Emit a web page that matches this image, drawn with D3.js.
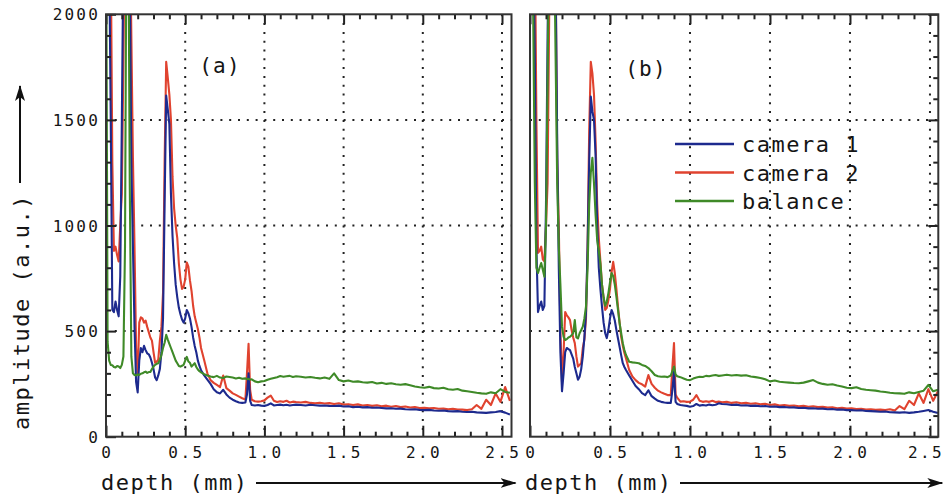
<!DOCTYPE html>
<html>
<head>
<meta charset="utf-8">
<script src="https://cdn.jsdelivr.net/npm/d3@7"></script>
<style>
  body { margin: 0; background: #fff; }
  text { font-family: "DejaVu Sans Mono", monospace; fill: #151515; }
</style>
</head>
<body>
<svg id="chart" width="946" height="495"></svg>
<script>
// sampling grid (mm), shared by every series
const depth = [
  0, 0.01, 0.02, 0.03, 0.04, 0.05, 0.06, 0.07, 0.08, 0.09,
  0.10, 0.11, 0.12, 0.13, 0.14, 0.15, 0.16, 0.17, 0.18, 0.19,
  0.20, 0.21, 0.22, 0.23, 0.24, 0.25, 0.26, 0.27, 0.28, 0.29,
  0.30, 0.31, 0.32, 0.33, 0.34, 0.35, 0.36, 0.37, 0.38, 0.39,
  0.40, 0.41, 0.42, 0.43, 0.44, 0.45, 0.46, 0.47, 0.48, 0.49,
  0.50, 0.51, 0.52, 0.53, 0.54, 0.55, 0.56, 0.57, 0.58, 0.59,
  0.60,
  0.62, 0.64, 0.66, 0.68, 0.70, 0.72, 0.74, 0.76, 0.78, 0.80, 0.82, 0.84, 0.86, 0.88,
  0.89, 0.90, 0.91, 0.92,
  0.94, 0.96, 0.98, 1.00, 1.02, 1.04, 1.06, 1.08, 1.10, 1.12, 1.14, 1.16, 1.18, 1.20,
  1.23, 1.26, 1.29, 1.32, 1.35, 1.38, 1.41, 1.44, 1.47, 1.50,
  1.53, 1.56, 1.59, 1.62, 1.65, 1.68, 1.71, 1.74, 1.77, 1.80,
  1.83, 1.86, 1.89, 1.92, 1.95, 1.98, 2.01, 2.04, 2.07, 2.10,
  2.13, 2.16, 2.19, 2.22, 2.25, 2.28, 2.31, 2.34, 2.37, 2.40,
  2.43, 2.46, 2.49, 2.52, 2.55
]

// panel (a)
const cam1A = [
  2600, 2500, 2300, 1500, 600, 590, 640, 600, 570, 760,
  1500, 2300, 2600, 2600, 2500, 2200, 1300, 900, 520, 260,
  210, 360, 420, 400, 430, 410, 395, 390, 375, 350,
  320, 280, 268, 290, 320, 400, 560, 1100, 1615, 1550,
  1480, 1150, 950, 820, 720, 660, 610, 580, 555, 540,
  560, 600, 585, 560, 520, 470, 430, 400, 360, 335,
  315,
  290, 270, 250, 225, 210, 205, 222, 200, 185, 175, 168, 162, 160, 162,
  200, 300, 170, 150,
  148, 150, 147, 146, 150, 158, 148, 150, 152, 149, 151, 148, 150, 152,
  150, 148, 151, 149, 147, 148, 146, 145, 147, 143,
  144, 140, 142, 139, 140, 137, 138, 136, 134, 135,
  132, 133, 130, 129, 130, 127, 126, 127, 124, 123,
  124, 121, 120, 121, 118, 117, 118, 115, 114, 113,
  115, 117, 121, 114, 105
]
const cam2A = [
  2600, 2600, 2500, 2300, 1300, 880, 900, 860, 830, 1000,
  1150, 1800, 2500, 2600, 2600, 2500, 1900, 1320, 900, 420,
  300, 540, 565, 560, 540, 550, 520, 495, 470, 455,
  400, 350, 355, 365, 455, 520, 680, 1300, 1775, 1700,
  1620, 1500, 1230, 1080, 1000, 940, 820, 745, 700, 710,
  745, 825, 805, 740, 690, 620, 570, 540, 510, 470,
  420,
  362, 300, 268, 255, 245, 235, 290, 230, 218, 205, 198, 190, 182, 176,
  300, 440, 220, 175,
  168, 166, 168, 172, 185, 195, 170, 164, 168, 165, 170, 162, 166, 164,
  162, 165, 160, 158, 161, 157, 159, 155, 158, 152,
  154, 150, 153, 148, 150, 146, 149, 144, 147, 142,
  145, 140, 143, 138, 140, 136, 137, 134, 136, 132,
  133, 130, 132, 129, 128, 126, 130, 150, 132, 175,
  150, 205, 165, 235, 170
]
const balA = [
  2600, 450, 360, 340, 338, 330, 328, 335, 332, 325,
  340, 380, 900, 2600, 2600, 1200, 380, 300, 292, 290,
  295, 292, 298, 300, 305, 308, 302, 306, 306, 320,
  332, 340, 345, 348, 365, 387, 420, 445, 482, 460,
  440, 420, 400, 380, 360, 348, 335, 332, 336, 340,
  360, 378, 356, 350, 332, 340, 348, 330, 318, 310,
  305,
  296, 290, 285, 282, 288, 280, 278, 285, 283, 280, 276, 279, 274, 276,
  272, 274, 270, 272,
  262, 258, 262, 264, 270, 274, 278, 282, 287, 284, 286, 288, 283, 286,
  284, 280, 283, 279, 276, 280, 274, 300, 268, 262,
  266, 260, 262, 258, 256, 259, 252, 255, 250, 253,
  248, 246, 249, 244, 238, 234, 232, 236, 230, 228,
  232, 225, 222, 226, 218, 215, 212, 208, 205, 203,
  210, 206, 225, 212, 208
]

// panel (b)
const cam1B = [
  2600, 2600, 2400, 1800, 900, 590, 620, 640, 600, 620,
  1100, 1900, 2500, 2600, 2600, 2500, 2200, 1400, 800, 400,
  215, 300, 400, 420, 415, 410, 390, 370, 330, 300,
  270, 284, 320, 380, 470, 590, 900, 1300, 1610, 1540,
  1500, 1330, 1000, 800, 700, 616, 540, 490, 467, 505,
  560, 600, 580, 550, 505, 465, 426, 385, 348, 330,
  316,
  290, 265, 240, 225, 206, 197, 220, 192, 180, 170, 165, 162, 160, 160,
  220, 308, 165, 155,
  150, 148, 146, 142, 145, 155, 147, 150, 148, 152, 149, 151, 158, 155,
  154, 150, 152, 148, 149, 146, 147, 144, 145, 142,
  143, 140, 141, 138, 139, 136, 137, 134, 135, 132,
  133, 130, 131, 128, 129, 126, 126, 124, 125, 122,
  121, 120, 118, 119, 116, 115, 114, 116, 113, 115,
  118, 122, 126, 118, 112
]
const cam2B = [
  2600, 2600, 2600, 2400, 1500, 870, 880, 900, 840, 830,
  1000, 1200, 2000, 2600, 2600, 2600, 2200, 1320, 1000, 500,
  260, 400, 590, 575, 565, 552, 505, 470, 443, 380,
  332, 340, 348, 420, 460, 560, 900, 1450, 1775, 1720,
  1620, 1400, 1100, 940, 830, 720, 660, 600, 610, 647,
  700, 780, 828, 775, 700, 616, 540, 473, 430, 396,
  370,
  316, 285, 268, 255, 248, 237, 292, 250, 232, 218, 210, 203, 197, 197,
  330, 443, 200, 185,
  166, 168, 165, 166, 175, 197, 170, 165, 168, 165, 170, 164, 166, 163,
  165, 160, 163, 158, 160, 156, 158, 154, 156, 150,
  153, 148, 150, 146, 148, 144, 146, 142, 144, 140,
  142, 138, 139, 135, 137, 133, 134, 131, 132, 129,
  130, 127, 128, 126, 130, 124, 145, 130, 170, 150,
  205, 160, 225, 170, 215
]
const balB = [
  2600, 2600, 2000, 1200, 800, 775, 800, 822, 790, 757,
  1000, 1700, 2400, 2600, 2600, 2400, 1800, 1200, 900, 720,
  520, 473, 458, 462, 470, 473, 480, 490, 552, 470,
  465, 490, 505, 521, 560, 616, 800, 1100, 1250, 1320,
  1200, 1050, 930, 880, 820, 720, 660, 620, 640, 680,
  730, 775, 760, 720, 663, 600, 538, 490, 443, 410,
  387,
  355, 352, 350, 348, 340, 335, 325, 310, 292, 286, 284, 285, 282, 290,
  310, 332, 295, 286,
  282, 276, 270, 268, 275, 280, 284, 283, 288, 286, 290, 292, 288, 290,
  293, 290, 292, 289, 291, 285, 282, 278, 272, 262,
  266, 260, 258, 256, 254, 253, 256, 262, 268, 256,
  250, 246, 248, 242, 238, 232, 230, 234, 226, 222,
  220, 218, 214, 212, 208, 206, 205, 203, 210, 206,
  212, 218, 245, 215, 222
]

const xTicks = [0, 0.5, 1.0, 1.5, 2.0, 2.5]
const yTicks = [0, 500, 1000, 1500, 2000]
const seriesNames = ['camera 1', 'camera 2', 'balance']
const seriesColors = ['#1d2a8e', '#e0432f', '#3f8a28']

const svg = d3.select('#chart')
const plotTop = 14.3, plotBottom = 436.7

const y = d3.scaleLinear().domain([0, 2000]).range([plotBottom, plotTop])

const panels = [
  { key: 'a', label: '(a)', left: 106, right: 511.5, xmax: 2.56, series: [cam1A, cam2A, balA],
    labelPos: [220, 73], yLabels: true, tickSide: 'left' },
  { key: 'b', label: '(b)', left: 530, right: 938.3, xmax: 2.552, series: [cam1B, cam2B, balB],
    labelPos: [646, 76], yLabels: false, tickSide: 'right' }
]

const defs = svg.append('defs')
defs.append('marker')
  .attr('id', 'arrow')
  .attr('markerUnits', 'userSpaceOnUse')
  .attr('markerWidth', 16).attr('markerHeight', 12)
  .attr('refX', 15).attr('refY', 5)
  .attr('orient', 'auto')
  .append('path')
  .attr('d', 'M0,0 L16,5 L0,10 L4,5 z')
  .attr('fill', '#111')

panels.forEach(p => {
  const x = d3.scaleLinear().domain([0, p.xmax]).range([p.left, p.right])
  const g = svg.append('g')

  defs.append('clipPath').attr('id', 'clip-' + p.key)
    .append('rect')
    .attr('x', p.left).attr('y', plotTop)
    .attr('width', p.right - p.left).attr('height', plotBottom - plotTop)

  // dotted grid
  g.selectAll('.vgrid')
    .data(xTicks.filter(d => d > 0))
    .join('line')
    .attr('x1', d => x(d)).attr('x2', d => x(d))
    .attr('y1', plotTop).attr('y2', plotBottom)
    .attr('stroke', '#222').attr('stroke-width', 2)
    .attr('stroke-dasharray', '2,6.8')
  g.selectAll('.hgrid')
    .data(yTicks.filter(d => d > 0 && d < 2000))
    .join('line')
    .attr('x1', p.left).attr('x2', p.right)
    .attr('y1', d => y(d)).attr('y2', d => y(d))
    .attr('stroke', '#222').attr('stroke-width', 2)
    .attr('stroke-dasharray', '2,6.8')

  // curves: camera 2 under camera 1, balance on top
  const line = d3.line()
    .x((d, i) => x(depth[i]))
    .y(d => y(d))
  const order = [1, 0, 2]
  g.append('g').attr('clip-path', `url(#clip-${p.key})`)
    .selectAll('path')
    .data(order)
    .join('path')
    .attr('d', i => line(p.series[i]))
    .attr('fill', 'none')
    .attr('stroke', i => seriesColors[i])
    .attr('stroke-width', 2.1)
    .attr('stroke-linejoin', 'round')

  // ticks (inward)
  const minorX = d3.range(0, p.xmax, 0.1).filter(d => Math.abs(d * 2 - Math.round(d * 2)) > 1e-6)
  const minorY = d3.range(100, 2000, 100).filter(d => d % 500 !== 0)
  const clean = sel => { sel.select('.domain').remove(); sel.selectAll('text').remove() }

  g.append('g').attr('transform', `translate(0,${plotBottom})`)
    .call(d3.axisBottom(x).tickValues(minorX).tickSize(-5)).call(clean)
  g.append('g').attr('transform', `translate(0,${plotBottom})`)
    .call(d3.axisBottom(x).tickValues(xTicks).tickSize(-11)).call(clean)
  g.append('g').attr('transform', `translate(0,${plotTop})`)
    .call(d3.axisTop(x).tickValues(minorX).tickSize(-5)).call(clean)
  g.append('g').attr('transform', `translate(0,${plotTop})`)
    .call(d3.axisTop(x).tickValues(xTicks).tickSize(-10)).call(clean)

  const yAxisGen = p.tickSide === 'left' ? d3.axisLeft : d3.axisRight
  const yAxisX = p.tickSide === 'left' ? p.left : p.right
  g.append('g').attr('transform', `translate(${yAxisX},0)`)
    .call(yAxisGen(y).tickValues(minorY).tickSize(-5)).call(clean)
  g.append('g').attr('transform', `translate(${yAxisX},0)`)
    .call(yAxisGen(y).tickValues(yTicks).tickSize(-10)).call(clean)
  g.selectAll('.tick line').attr('stroke', '#222').attr('stroke-width', 2)

  // frame
  g.append('rect')
    .attr('x', p.left).attr('y', plotTop)
    .attr('width', p.right - p.left).attr('height', plotBottom - plotTop)
    .attr('fill', 'none').attr('stroke', '#333').attr('stroke-width', 2)

  // x tick labels (the last one of panel b is nudged so it stays on the page)
  g.selectAll('.xlab')
    .data(xTicks)
    .join('text')
    .attr('x', d => Math.min(x(d) + 1.2, 926))
    .attr('y', 458)
    .attr('text-anchor', 'middle')
    .attr('font-size', 16)
    .attr('letter-spacing', 2.4)
    .text(d => d === 0 ? '0' : d3.format('.1f')(d))

  if (p.yLabels) {
    g.selectAll('.ylab')
      .data(yTicks)
      .join('text')
      .attr('x', 100)
      .attr('y', d => y(d) + 6)
      .attr('text-anchor', 'end')
      .attr('font-size', 16)
      .attr('letter-spacing', 2.2)
      .text(d => d)
  }

  // panel label
  g.append('text')
    .attr('x', p.labelPos[0]).attr('y', p.labelPos[1])
    .attr('text-anchor', 'middle')
    .attr('font-size', 21)
    .attr('letter-spacing', 1.2)
    .text(p.label)

  // x axis title with arrow
  g.append('text')
    .attr('x', p.left - 5).attr('y', 490)
    .attr('font-size', 22)
    .attr('letter-spacing', 1.5)
    .text('depth (mm)')
  g.append('line')
    .attr('x1', p.left + 150).attr('x2', p.right + 4)
    .attr('y1', 483).attr('y2', 483)
    .attr('stroke', '#111').attr('stroke-width', 2)
    .attr('marker-end', 'url(#arrow)')
})

// y axis title with arrow
svg.append('text')
  .attr('transform', 'translate(28.5,430) rotate(-90)')
  .attr('font-size', 22)
  .attr('letter-spacing', 1.5)
  .text('amplitude (a.u.)')
svg.append('line')
  .attr('x1', 20).attr('x2', 20)
  .attr('y1', 183).attr('y2', 86)
  .attr('stroke', '#111').attr('stroke-width', 2)
  .attr('marker-end', 'url(#arrow)')

// legend inside panel (b)
const legend = svg.append('g')
  .selectAll('g')
  .data(seriesNames)
  .join('g')
  .attr('transform', (d, i) => `translate(675,${144 + i * 28.5})`)
legend.append('line')
  .attr('x1', 0).attr('x2', 59)
  .attr('stroke', (d, i) => seriesColors[i])
  .attr('stroke-width', 2.6)
legend.append('text')
  .attr('x', 67).attr('y', 8)
  .attr('font-size', 22)
  .attr('letter-spacing', 1.5)
  .text(d => d)
</script>
</body>
</html>
